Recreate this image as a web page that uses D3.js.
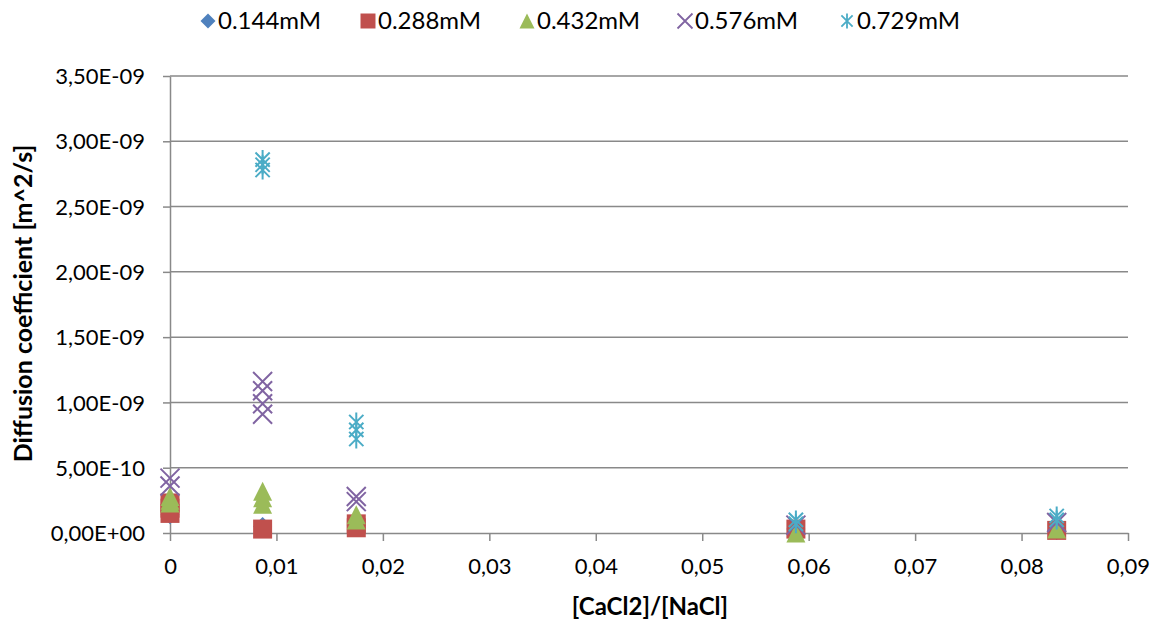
<!DOCTYPE html>
<html>
<head>
<meta charset="utf-8">
<script src="https://cdn.jsdelivr.net/npm/d3@7"></script>
<style>
  html, body { margin: 0; padding: 0; background: #fff; }
  svg { display: block; font-family: Lato, "Open Sans", sans-serif; }
</style>
</head>
<body>
<svg id="chart" width="1159" height="622"></svg>
<script>
// Diffusion coefficient measured at several CaCl2/NaCl ratios, one series per concentration.
const seriesNames = ["0.144mM", "0.288mM", "0.432mM", "0.576mM", "0.729mM"];
const seriesColors = ["#4F81BD", "#C0504D", "#9BBB59", "#8064A2", "#4BACC6"];

// [ratio, D (m^2/s)] replicates
const d144 = [[0, 0.14e-9], [0, 0.17e-9], [0.0087, 0.05e-9], [0.0175, 0.06e-9], [0.0588, 0.03e-9], [0.0833, 0.02e-9]];
const d288 = [[0, 0.23e-9], [0, 0.19e-9], [0, 0.15e-9], [0.0087, 0.03e-9], [0.0175, 0.07e-9], [0.0175, 0.04e-9], [0.0588, 0.03e-9], [0.0833, 0.02e-9]];
const d432 = [[0, 0.28e-9], [0, 0.25e-9], [0, 0.23e-9], [0.0087, 0.32e-9], [0.0087, 0.27e-9], [0.0087, 0.22e-9], [0.0175, 0.14e-9], [0.0175, 0.10e-9], [0.0588, 0.00e-9], [0.0833, 0.03e-9]];
const d576 = [[0, 0.42e-9], [0, 0.36e-9], [0.0087, 1.16e-9], [0.0087, 1.09e-9], [0.0087, 0.99e-9], [0.0087, 0.91e-9], [0.0175, 0.28e-9], [0.0175, 0.24e-9], [0.0588, 0.06e-9], [0.0833, 0.08e-9]];
const d729 = [[0.0087, 2.86e-9], [0.0087, 2.82e-9], [0.0087, 2.78e-9], [0.0175, 0.85e-9], [0.0175, 0.79e-9], [0.0175, 0.72e-9], [0.0588, 0.10e-9], [0.0588, 0.07e-9], [0.0833, 0.13e-9], [0.0833, 0.10e-9]];

const xTicks = [0, 0.01, 0.02, 0.03, 0.04, 0.05, 0.06, 0.07, 0.08, 0.09];
const yTicks = [0, 0.5e-9, 1.0e-9, 1.5e-9, 2.0e-9, 2.5e-9, 3.0e-9, 3.5e-9];

const xTitle = "[CaCl2]/[NaCl]";
const yTitle = "Diffusion coefficient [m^2/s]";

// ---- layout ----
const svg = d3.select("#chart");
const plot = { left: 170, right: 1128, top: 76, bottom: 533 };
const axisGrey = "#898989";

const x = d3.scaleLinear().domain([0, 0.09]).range([plot.left, plot.right]);
const y = d3.scaleLinear().domain([0, 3.5e-9]).range([plot.bottom, plot.top]);

// comma-decimal scientific labels, e.g. 3,50E-09
function sciComma(v) {
  if (v === 0) return "0,00E+00";
  const [m, e] = d3.format(".2e")(v).split("e");
  const ex = +e;
  return m.replace(".", ",") + "E" + (ex < 0 ? "-" : "+") + String(Math.abs(ex)).padStart(2, "0");
}
function decComma(v) {
  return v === 0 ? "0" : d3.format(".2f")(v).replace(".", ",");
}

// horizontal gridlines
svg.append("g")
  .selectAll("line")
  .data(yTicks.filter(t => t > 0))
  .join("line")
  .attr("x1", plot.left).attr("x2", plot.right)
  .attr("y1", d => y(d)).attr("y2", d => y(d))
  .attr("stroke", axisGrey).attr("stroke-width", 1.5);

// y axis
const yAxis = svg.append("g")
  .attr("transform", `translate(${plot.left},0)`)
  .call(d3.axisLeft(y).tickValues(yTicks).tickFormat(sciComma).tickSize(7).tickPadding(18).tickSizeOuter(0));
// x axis
const xAxis = svg.append("g")
  .attr("transform", `translate(0,${plot.bottom})`)
  .call(d3.axisBottom(x).tickValues(xTicks).tickFormat(decComma).tickSize(8).tickPadding(17).tickSizeOuter(0));

[yAxis, xAxis].forEach(g => {
  g.select(".domain").attr("stroke", axisGrey).attr("stroke-width", 1.5);
  g.selectAll(".tick line").attr("stroke", axisGrey).attr("stroke-width", 1.5);
  g.selectAll(".tick text").attr("fill", "#000").style("font-size", "22px").style("font-family", "Lato, sans-serif");
});
yAxis.selectAll(".tick text").attr("dy", "0.35em");
xAxis.selectAll(".tick text").attr("dy", "0.71em");

// ---- marker shapes (size = half-width in px) ----
const diamond = { draw(ctx, r) { ctx.moveTo(0, -r); ctx.lineTo(r, 0); ctx.lineTo(0, r); ctx.lineTo(-r, 0); ctx.closePath(); } };
const square = { draw(ctx, r) { ctx.rect(-r, -r, 2 * r, 2 * r); } };
const triangle = { draw(ctx, r) { ctx.moveTo(0, -r); ctx.lineTo(r, r); ctx.lineTo(-r, r); ctx.closePath(); } };
const cross = { draw(ctx, r) { ctx.moveTo(-r, -r); ctx.lineTo(r, r); ctx.moveTo(r, -r); ctx.lineTo(-r, r); } };
const star = { draw(ctx, r) { const w = r * 0.75; ctx.moveTo(-w, -r * 0.75); ctx.lineTo(w, r * 0.75); ctx.moveTo(w, -r * 0.75); ctx.lineTo(-w, r * 0.75); ctx.moveTo(0, -r); ctx.lineTo(0, r); } };

const seriesData = [d144, d288, d432, d576, d729];
const shapes = [diamond, square, triangle, cross, star];
const filled = [true, true, true, false, false];

const markerR = 9.5;

seriesData.forEach((pts, i) => {
  const sym = d3.symbol().type(shapes[i]).size(markerR);
  const g = svg.append("g");
  g.selectAll("path")
    .data(pts)
    .join("path")
    .attr("transform", d => `translate(${x(d[0])},${y(d[1])})`)
    .attr("d", sym)
    .attr("fill", filled[i] ? seriesColors[i] : "none")
    .attr("stroke", filled[i] ? "none" : seriesColors[i])
    .attr("stroke-width", 2);
});

// ---- legend ----
const legendX = [208, 368, 527, 685, 847];
const legend = svg.append("g");
seriesNames.forEach((name, i) => {
  const sym = d3.symbol().type(shapes[i]).size(7.5);
  legend.append("path")
    .attr("transform", `translate(${legendX[i]},21)`)
    .attr("d", sym)
    .attr("fill", filled[i] ? seriesColors[i] : "none")
    .attr("stroke", filled[i] ? "none" : seriesColors[i])
    .attr("stroke-width", 1.8);
  legend.append("text")
    .attr("x", legendX[i] + 10)
    .attr("y", 29)
    .style("font-size", "24px")
    .text(name);
});

// ---- axis titles ----
svg.append("text")
  .attr("x", (plot.left + plot.right) / 2 + 1)
  .attr("y", 615)
  .attr("text-anchor", "middle")
  .style("font-size", "24px").style("font-weight", "bold")
  .text(xTitle);

svg.append("text")
  .attr("transform", `translate(32,${(plot.top + plot.bottom) / 2 - 1}) rotate(-90)`)
  .attr("text-anchor", "middle")
  .style("font-size", "25px").style("font-weight", "bold")
  .text(yTitle);
</script>
</body>
</html>
